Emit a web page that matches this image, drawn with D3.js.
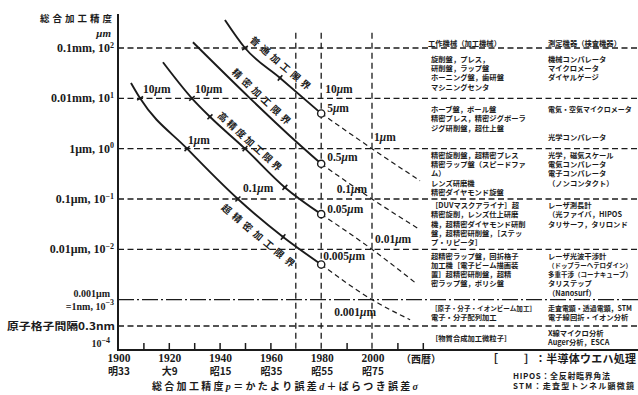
<!DOCTYPE html>
<html>
<head>
<meta charset="utf-8">
<script src="https://cdn.jsdelivr.net/npm/d3@7"></script>
<style>
  html, body { margin: 0; padding: 0; background: #fff; }
  svg { display: block; }
</style>
</head>
<body>
<svg id="chart" width="638" height="395"></svg>
<script>
// ---- axis data ----
const yearTicks = [1900, 1920, 1940, 1960, 1980, 2000];
const eraLabels = ["明33", "大9", "昭15", "昭35", "昭55", "昭75"];
const minorYears = [1910, 1920, 1930, 1940, 1950, 1960, 1990, 2010, 2020];
const guideYears = [1970, 1980, 2000];

const decadeValues = [100, 10, 1, 0.1, 0.01];
const decadeLabels = ["0.1mm, 10", "0.01mm, 10", "1μm, 10", "0.1μm, 10", "0.01μm, 10"];
const decadeExponents = ["2", "1", "0", "−1", "−2"];
const nanometreValue = 0.001;
const latticeValue = 0.0003;
const floorValue = 0.0001;

// ---- accuracy limits: achieved (solid) and forecast (dashed), µm ----
const lineNames = ["普通加工限界", "精密加工限界", "高精度加工限界", "超精密加工限界"];

const normalYears = [1942.1, 1950, 1963.8, 1980];
const normalMicrons = [360, 100, 25.4, 5];
const normalForecastYears = [1980, 2000, 2018.9];
const normalForecastMicrons = [5, 1, 0.23];
const normalMarkYears = [1950, 1963.8];
const normalMarkMicrons = [100, 25.4];

const precisionYears = [1929.5, 1952, 1967.7, 1980];
const precisionMicrons = [130, 10, 1.79, 0.5];
const precisionForecastYears = [1980, 2000, 2018.1];
const precisionForecastMicrons = [0.5, 0.1, 0.026];
const precisionMarkYears = [];
const precisionMarkMicrons = [];

const highYears = [1917.7, 1929.1, 1936.2, 1950, 1965.7, 1980];
const highMicrons = [52, 10, 4.3, 1, 0.17, 0.05];
const highForecastYears = [1980, 2000, 2016.9];
const highForecastMicrons = [0.05, 0.01, 0.0022];
const highMarkYears = [1929.1, 1936.2, 1950, 1965.7];
const highMarkMicrons = [10, 4.3, 1, 0.17];

const ultraYears = [1905.1, 1908.7, 1927.2, 1947.2, 1965, 1980];
const ultraMicrons = [20.2, 10, 1, 0.1, 0.0176, 0.005];
const ultraForecastYears = [1980, 2000, 2015];
const ultraForecastMicrons = [0.005, 0.001, 0.0004];
const ultraMarkYears = [1908.7, 1927.2, 1947.2, 1965];
const ultraMarkMicrons = [10, 1, 0.1, 0.0176];

// ---- value callouts ----
const calloutTexts = ["10μm", "10μm", "1μm", "0.1μm", "10μm", "5μm", "1μm", "0.5μm", "0.1μm", "0.05μm", "0.01μm", "0.005μm", "0.001μm"];
const calloutYears = [1908.7, 1929.1, 1927.2, 1947.2, 1980, 1980, 2000, 1980, 2000, 1980, 2000, 1980, 2000];
const calloutMicrons = [10, 10, 1, 0.1, 10, 5, 1, 0.5, 0.1, 0.05, 0.01, 0.005, 0.001];

// ---- machine / instrument table ----
const toolHeader = "工作機械（加工機械）";
const gaugeHeader = "測定機器（検査機器）";
const bandUpper = [100, 10, 1, 0.1, 0.01, 0.001, 0.0003];
const bandLower = [10, 1, 0.1, 0.01, 0.001, 0.0003, 0.0001];
const toolRows = [
  ["旋削盤，プレス，", "研削盤，ラップ盤", "ホーニング盤，歯研盤", "マシニングセンタ"],
  ["ホーブ盤，ボール盤", "精密プレス，精密ジグボーラ", "ジグ研削盤，超仕上盤", ""],
  ["精密旋削盤，超精密プレス", "精密ラップ盤（スピードファ", "ム）", "レンズ研磨機", "精密ダイヤモンド旋盤"],
  ["［DUVマスクアライナ］超", "精密旋削，レンズ仕上研磨", "機，超精密ダイヤモンド研削", "盤，超精密研削盤，［ステッ", "プ・リピータ］"],
  ["超精密ラップ盤，回折格子", "加工機［電子ビーム描画装", "置］超精密研削盤，超精", "密ラップ盤，ポリシ盤", ""],
  ["［原子・分子・イオンビーム加工］", "電子・分子配列加工"],
  ["［物質合成加工微粒子］"]
];
const gaugeRows = [
  ["機械コンパレータ", "マイクロメータ", "ダイヤルゲージ", ""],
  ["電気・空気マイクロメータ", "", "", "光学コンパレータ"],
  ["光学，磁気スケール", "電気コンパレータ", "電子コンパレータ", "（ノンコンタクト）", ""],
  ["レーザ測長計", "（光ファイバ，HIPOS", "タリサーフ，タリロンド", "", ""],
  ["レーザ光波干渉計", "（ドップラーヘテロダイン）", "多重干渉（コーナキューブ）", "タリステップ", "（Nanosurf）"],
  ["走査電顕・透過電顕，STM", "電子線回折・イオン分析"],
  ["X線マイクロ分析", "Auger分析，ESCA"]
];

const eraCaption = "（西暦）";
const legendCaption = "：半導体ウエハ処理";
const noteLines = ["HIPOS：全反射臨界角法", "STM：走査型トンネル顕微鏡"];

// ================= drawing =================
const W = 638, H = 395;
const ink = "#1b1b1b";
const serif = "'Liberation Serif', 'DejaVu Serif', serif";
const jp = "'Noto Sans CJK JP', 'Noto Sans CJK SC', sans-serif";

const svg = d3.select("#chart");
svg.append("rect").attr("width", W).attr("height", H).attr("fill", "#fff");

const x = d3.scaleLinear().domain([1900, 2000]).range([118, 372]);
const y = d3.scaleLog().domain([1e-4, 1e2]).range([350, 48]);
const xLeft = x(1900), xAxisY = y(floorValue);

// horizontal decade guides
const grid = svg.append("g").attr("stroke", ink).attr("fill", "none");
grid.selectAll("line.dec").data(decadeValues).join("line")
  .attr("class", "dec")
  .attr("x1", xLeft).attr("x2", W)
  .attr("y1", d => y(d)).attr("y2", d => y(d))
  .attr("stroke-width", 1.3).attr("stroke-dasharray", "6,3.5");
grid.append("line")
  .attr("x1", xLeft).attr("x2", W)
  .attr("y1", y(nanometreValue)).attr("y2", y(nanometreValue))
  .attr("stroke-width", 1.3).attr("stroke-dasharray", "16,3,2,3");
grid.append("line")
  .attr("x1", xLeft).attr("x2", W)
  .attr("y1", y(latticeValue)).attr("y2", y(latticeValue))
  .attr("stroke-width", 1.3).attr("stroke-dasharray", "6,3.5");

// vertical year guides
grid.selectAll("line.yr").data(guideYears).join("line")
  .attr("class", "yr")
  .attr("x1", d => x(d)).attr("x2", d => x(d))
  .attr("y1", y(200)).attr("y2", xAxisY)
  .attr("stroke-width", 1.3).attr("stroke-dasharray", "6,4");

// axes
svg.append("line").attr("x1", xLeft).attr("x2", xLeft).attr("y1", 14).attr("y2", xAxisY + 1)
  .attr("stroke", ink).attr("stroke-width", 2);
svg.append("line").attr("x1", xLeft - 1).attr("x2", W).attr("y1", xAxisY).attr("y2", xAxisY)
  .attr("stroke", ink).attr("stroke-width", 2);

const xAxis = d3.axisTop(x).tickValues(minorYears).tickSize(7).tickFormat("");
const xAxisG = svg.append("g").attr("transform", `translate(0,${xAxisY})`).call(xAxis);
xAxisG.select(".domain").remove();
xAxisG.selectAll(".tick line").attr("stroke", ink).attr("stroke-width", 1.5);

// year labels and era labels
const yearG = svg.append("g").attr("font-family", serif).attr("font-size", 11.5)
  .attr("font-weight", "bold").attr("fill", ink).attr("text-anchor", "middle");
yearG.selectAll("text.yr").data(yearTicks).join("text")
  .attr("class", "yr").attr("x", d => x(d) + 1).attr("y", xAxisY + 12).text(d => d);
yearG.selectAll("text.era").data(yearTicks).join("text")
  .attr("class", "era").attr("x", d => x(d) + 1).attr("y", xAxisY + 25)
  .attr("font-family", jp).attr("font-size", 10).text((d, i) => eraLabels[i]);

svg.append("text").attr("x", x(2000) + 49).attr("y", xAxisY + 13)
  .attr("font-family", jp).attr("font-size", 10).attr("font-weight", "bold")
  .attr("text-anchor", "middle").attr("fill", ink).text(eraCaption);

// y labels
const yLab = svg.append("g").attr("font-family", serif).attr("font-size", 12)
  .attr("font-weight", "bold").attr("fill", ink).attr("text-anchor", "end");
function expLabel(g, base, exp, yy) {
  const t = g.append("text").attr("x", xLeft - 4).attr("y", yy);
  t.append("tspan").text(base);
  if (exp) t.append("tspan").attr("dy", -4.5).attr("font-size", 8).text(exp);
  return t;
}
decadeValues.forEach((v, i) => expLabel(yLab, decadeLabels[i], decadeExponents[i], y(v) + 4));
expLabel(yLab, "0.001μm", null, y(nanometreValue) - 3).attr("x", xLeft - 8).attr("font-size", 10);
expLabel(yLab, "=1nm, 10", "−3", y(nanometreValue) + 10).attr("font-size", 10);
yLab.append("text").attr("x", xLeft - 3).attr("y", y(latticeValue) + 4)
  .attr("font-family", jp).attr("font-size", 10).text("原子格子間隔0.3nm")
  .attr("textLength", 108).attr("lengthAdjust", "spacingAndGlyphs");
expLabel(yLab, "10", "−4", y(floorValue) - 3).attr("x", xLeft - 8).attr("font-size", 10);

// y title
svg.append("text").attr("x", 40).attr("y", 22).attr("font-family", jp).attr("font-size", 9.5)
  .attr("font-weight", "bold").attr("fill", ink)
  .attr("textLength", 72).attr("lengthAdjust", "spacing").text("総合加工精度");
svg.append("text").attr("x", 111).attr("y", 37).attr("text-anchor", "end")
  .attr("font-family", serif).attr("font-size", 11).attr("font-weight", "bold")
  .attr("font-style", "italic").attr("fill", ink).text("μm");

// x title
const xt = svg.append("text").attr("x", 152).attr("y", 390).attr("font-family", jp)
  .attr("font-size", 10).attr("font-weight", "bold").attr("fill", ink)
  .attr("textLength", 266).attr("lengthAdjust", "spacing");
xt.append("tspan").text("総合加工精度");
xt.append("tspan").attr("font-family", serif).attr("font-style", "italic").text("p");
xt.append("tspan").text("＝かたより誤差");
xt.append("tspan").attr("font-family", serif).attr("font-style", "italic").text("d");
xt.append("tspan").text("＋ばらつき誤差");
xt.append("tspan").attr("font-family", serif).attr("font-style", "italic").text("σ");

// ---- curves ----
const zip = (a, b) => a.map((v, i) => [v, b[i]]);
const series = [
  { name: lineNames[0], pts: zip(normalYears, normalMicrons), fc: zip(normalForecastYears, normalForecastMicrons), marks: zip(normalMarkYears, normalMarkMicrons) },
  { name: lineNames[1], pts: zip(precisionYears, precisionMicrons), fc: zip(precisionForecastYears, precisionForecastMicrons), marks: zip(precisionMarkYears, precisionMarkMicrons) },
  { name: lineNames[2], pts: zip(highYears, highMicrons), fc: zip(highForecastYears, highForecastMicrons), marks: zip(highMarkYears, highMarkMicrons) },
  { name: lineNames[3], pts: zip(ultraYears, ultraMicrons), fc: zip(ultraForecastYears, ultraForecastMicrons), marks: zip(ultraMarkYears, ultraMarkMicrons) }
];
// label placement along each curve: year of the label centre, offset normal to the line, drawn length
const labelLayout = [
  { year: 1961, off: 12, len: 76 },
  { year: 1954, off: 9.5, len: 76 },
  { year: 1949.6, off: 9, len: 82 },
  { year: 1959, off: -14.5, len: 92 }
];

const line = d3.line().x(d => x(d[0])).y(d => y(d[1])).curve(d3.curveMonotoneX);
const curveG = svg.append("g").attr("fill", "none").attr("stroke", ink);

function segmentAt(pts, yr) {
  for (let i = 0; i < pts.length - 1; i++) {
    if (yr >= pts[i][0] && yr <= pts[i + 1][0]) return [pts[i], pts[i + 1]];
  }
  return yr < pts[0][0] ? [pts[0], pts[1]] : [pts[pts.length - 2], pts[pts.length - 1]];
}
function pointAt(pts, yr) {
  const [a, b] = segmentAt(pts, yr);
  const t = (yr - a[0]) / (b[0] - a[0]);
  const lx = x(yr);
  const ly = y(a[1]) + t * (y(b[1]) - y(a[1]));
  const ang = Math.atan2(y(b[1]) - y(a[1]), x(b[0]) - x(a[0]));
  return { lx, ly, ang };
}

series.forEach((s, i) => {
  curveG.append("path").attr("d", line(s.fc)).attr("stroke-width", 1.2).attr("stroke-dasharray", "5,3.5");
  curveG.append("path").attr("d", line(s.pts)).attr("stroke-width", 1.9);
  // tick marks across the curve
  s.marks.forEach(m => {
    const p = pointAt(s.pts, m[0]);
    const nx = Math.sin(p.ang), ny = -Math.cos(p.ang);
    curveG.append("line")
      .attr("x1", x(m[0]) - nx * 3.5).attr("y1", y(m[1]) - ny * 3.5)
      .attr("x2", x(m[0]) + nx * 3.5).attr("y2", y(m[1]) + ny * 3.5)
      .attr("stroke-width", 1.6);
    curveG.append("circle").attr("cx", x(m[0])).attr("cy", y(m[1])).attr("r", 1.4).attr("fill", ink).attr("stroke", "none");
  });
  // open circle at the 1980 state of the art
  const end = s.pts[s.pts.length - 1];
  curveG.append("circle").attr("cx", x(end[0])).attr("cy", y(end[1])).attr("r", 3.6)
    .attr("fill", "#fff").attr("stroke-width", 1.4);

  // rotated name along the curve
  const L = labelLayout[i];
  const p = pointAt(s.pts, L.year);
  const nx = Math.sin(p.ang), ny = -Math.cos(p.ang);
  const cx = p.lx + nx * L.off, cy = p.ly + ny * L.off;
  svg.append("text")
    .attr("transform", `translate(${cx},${cy}) rotate(${p.ang * 180 / Math.PI})`)
    .attr("text-anchor", "middle").attr("dominant-baseline", "central")
    .attr("font-family", jp).attr("font-size", 9.5).attr("font-weight", "bold").attr("fill", ink)
    .attr("textLength", L.len).attr("lengthAdjust", "spacing")
    .text(s.name);
});

// value callouts next to the curves
const calloutOffsets = [
  [3, -5, "start"], [3, -5, "start"], [1, -5, "start"], [5, -7, "start"],
  [4, -5, "start"], [6, -1.5, "start"], [2, -7.5, "start"], [6, -3, "start"],
  [-5, -6, "end"], [6, -1.5, "start"], [3, -6, "start"], [2, -4, "start"], [4, 16, "end"]
];
const callG = svg.append("g").attr("font-family", serif).attr("font-size", 11.5)
  .attr("font-weight", "bold").attr("fill", ink);
calloutTexts.forEach((t, i) => {
  const [dx, dy, anchor] = calloutOffsets[i];
  const txt = callG.append("text")
    .attr("x", x(calloutYears[i]) + dx).attr("y", y(calloutMicrons[i]) + dy)
    .attr("text-anchor", anchor);
  const m = t.indexOf("μ");
  txt.append("tspan").text(t.slice(0, m));
  txt.append("tspan").attr("font-style", "italic").text("μ");
  txt.append("tspan").text(t.slice(m + 1));
});

// ---- table of machines and instruments ----
const tableSize = 7.3;
const tableG = svg.append("g").attr("font-family", jp).attr("font-size", tableSize)
  .attr("font-weight", "bold").attr("fill", ink);
const colLeft = 431, colRight = 548, lineGap = 9.3;
// shrink a line's font until it fits the column width
function fitText(sel, maxW) {
  sel.each(function () {
    const w = this.getComputedTextLength();
    if (w > maxW) d3.select(this).attr("font-size", (tableSize * maxW / w).toFixed(2));
  });
}
function drawColumn(rows, xPos, maxW) {
  rows.forEach((lines, r) => {
    const mid = (y(bandUpper[r]) + y(bandLower[r])) / 2;
    const first = mid - (lines.length - 1) * lineGap / 2;
    lines.forEach((ln, k) => {
      if (!ln) return;
      const t = tableG.append("text").attr("x", xPos).attr("y", first + k * lineGap + 2.6).text(ln);
      fitText(t, maxW);
    });
  });
}
drawColumn(toolRows, colLeft, 105);
drawColumn(gaugeRows, colRight, 84);
tableG.append("text").attr("x", 428).attr("y", 46).text(toolHeader);
tableG.append("text").attr("x", colRight).attr("y", 46).text(gaugeHeader);

// legend for bracketed entries
const legG = svg.append("g").attr("font-family", jp).attr("font-size", 11)
  .attr("font-weight", "bold").attr("fill", ink);
legG.append("text").attr("x", 487).attr("y", 363).text("［");
legG.append("text").attr("x", 524).attr("y", 363).text("］");
legG.append("text").attr("x", 535).attr("y", 363).attr("textLength", 101)
  .attr("lengthAdjust", "spacing").text(legendCaption);

const noteG = svg.append("g").attr("font-family", jp).attr("font-size", 8)
  .attr("font-weight", "bold").attr("fill", ink);
noteG.append("text").attr("x", 513).attr("y", 379).attr("textLength", 97)
  .attr("lengthAdjust", "spacing").text(noteLines[0]);
noteG.append("text").attr("x", 513).attr("y", 389).attr("textLength", 121)
  .attr("lengthAdjust", "spacing").text(noteLines[1]);
</script>
</body>
</html>
